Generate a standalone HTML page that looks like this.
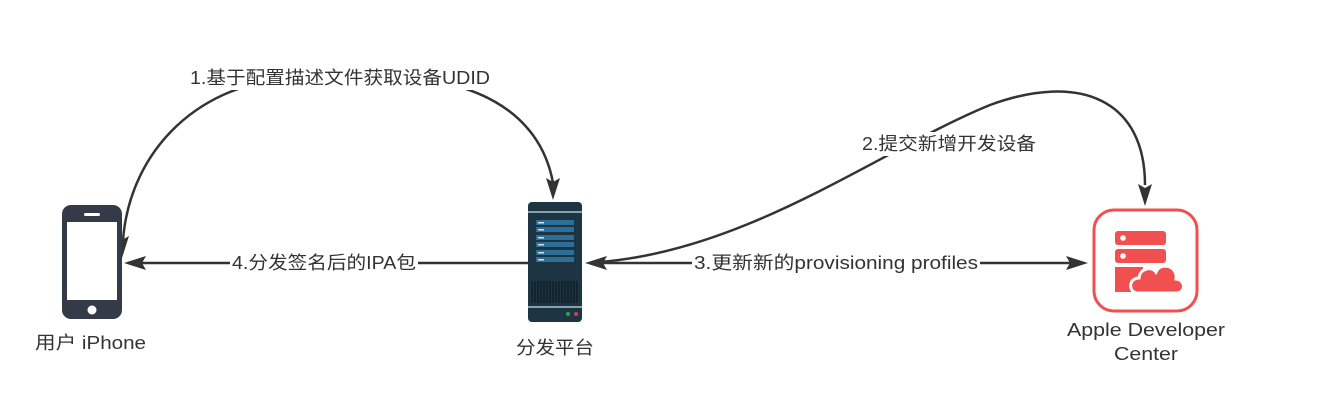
<!DOCTYPE html>
<html><head><meta charset="utf-8"><style>
html,body{margin:0;padding:0;background:#fff;}
svg{display:block;}
text{font-family:"Liberation Sans","Noto Sans CJK SC",sans-serif;fill:#333;}
</style></head><body>
<svg width="1330" height="408" viewBox="0 0 1330 408" xmlns="http://www.w3.org/2000/svg">
<g fill="none" stroke="#333" stroke-width="2.5">
<!-- curve 1 -->
<path d="M553,183 C540,110 470,75 380,78 L300,78 C200,80 130,150 123,240"/>
<path d="M122,258 l-7,-22 l7,4 l7,-4 z" fill="#333" stroke="none"/>
<path d="M553,200 l-7,-22 l7,4 l7,-4 z" fill="#333" stroke="none"/>
<!-- curve 2 -->
<path d="M600,262 C750,250 880,150 990,105 C1080,72 1145,100 1145,185"/>
<path d="M1145,206 l-7,-22 l7,4 l7,-4 z" fill="#333" stroke="none"/>
<!-- line 4 -->
<line x1="140" y1="263" x2="528" y2="263"/>
<path d="M124,263 l22,-7 l-4,7 l4,7 z" fill="#333" stroke="none"/>
<!-- line 3 -->
<line x1="600" y1="263" x2="1072" y2="263"/>
<path d="M585,263 l22,-7 l-4,7 l4,7 z" fill="#333" stroke="none"/>
<path d="M1088,263 l-22,-7 l4,7 l-4,7 z" fill="#333" stroke="none"/>
</g>
<rect x="188" y="66" width="304" height="24" fill="#fff"/>
<text x="190" y="84" font-size="18" textLength="300" lengthAdjust="spacingAndGlyphs">1.基于配置描述文件获取设备UDID</text>
<rect x="860" y="132" width="178" height="24" fill="#fff"/>
<text x="862" y="150" font-size="18" textLength="174" lengthAdjust="spacingAndGlyphs">2.提交新增开发设备</text>
<rect x="692" y="252" width="288" height="24" fill="#fff"/>
<text x="694" y="269" font-size="18" textLength="284" lengthAdjust="spacingAndGlyphs">3.更新新的provisioning profiles</text>
<rect x="230" y="252" width="188" height="24" fill="#fff"/>
<text x="232" y="269" font-size="18" textLength="184" lengthAdjust="spacingAndGlyphs">4.分发签名后的IPA包</text>
<!-- phone -->
<rect x="62" y="205" width="60" height="114" rx="9" fill="#343a48"/>
<rect x="67" y="222" width="50" height="78" fill="#fff"/>
<rect x="84" y="213" width="16" height="3" rx="1.5" fill="#fff"/>
<circle cx="92" cy="310" r="4.5" fill="#fff"/>
<text x="35" y="349" font-size="18" textLength="111" lengthAdjust="spacingAndGlyphs">用户 iPhone</text>
<!-- server -->
<rect x="528" y="202" width="54" height="120" rx="4" fill="#1d3442"/>
<rect x="528" y="211" width="54" height="2" fill="#8aa0ad"/>
<rect x="528" y="306" width="54" height="2" fill="#8aa0ad"/>
<g fill="#2e6f97">
<rect x="536" y="220" width="38" height="5"/><rect x="536" y="227" width="38" height="5"/>
<rect x="536" y="235" width="38" height="5"/><rect x="536" y="242" width="38" height="5"/>
<rect x="536" y="250" width="38" height="5"/><rect x="536" y="257" width="38" height="5"/>
</g>
<g fill="#cfe3ef">
<rect x="538" y="222" width="6" height="1.5"/><rect x="538" y="229" width="6" height="1.5"/>
<rect x="538" y="237" width="6" height="1.5"/><rect x="538" y="244" width="6" height="1.5"/>
<rect x="538" y="252" width="6" height="1.5"/><rect x="538" y="259" width="6" height="1.5"/>
</g>
<g stroke="#0d1a22" stroke-width="1.2">
<path d="M532,281 v22 M535,281 v22 M538,281 v22 M541,281 v22 M544,281 v22 M547,281 v22 M550,281 v22 M553,281 v22 M556,281 v22 M559,281 v22 M562,281 v22 M565,281 v22 M568,281 v22 M571,281 v22 M574,281 v22 M577,281 v22"/>
</g>
<circle cx="568" cy="314" r="2" fill="#2aa84a"/>
<circle cx="576" cy="314" r="2" fill="#d43a5a"/>
<text x="516" y="354" font-size="18" textLength="78" lengthAdjust="spacingAndGlyphs">分发平台</text>
<!-- apple dev center -->
<rect x="1094" y="210" width="103" height="101" rx="20" fill="#fff" stroke="#f25050" stroke-width="3"/>
<g fill="#f25050">
<rect x="1115" y="231" width="51" height="14" rx="3"/>
<rect x="1115" y="249" width="51" height="14" rx="3"/>
<rect x="1115" y="267" width="28" height="25"/>
<circle cx="1123" cy="238" r="2.8" fill="#fff"/>
<circle cx="1123" cy="256" r="2.8" fill="#fff"/>
<path d="M1138,293 C1128,293 1128,278 1139,278 C1140,268 1152,266 1156,272 C1160,262 1178,265 1176,279 C1186,280 1186,293 1176,293 Z" stroke="#fff" stroke-width="3"/>
</g>
<text x="1067" y="336" font-size="18" textLength="158" lengthAdjust="spacingAndGlyphs">Apple Developer</text>
<text x="1114" y="360" font-size="18" textLength="64" lengthAdjust="spacingAndGlyphs">Center</text>
</svg>
</body></html>
